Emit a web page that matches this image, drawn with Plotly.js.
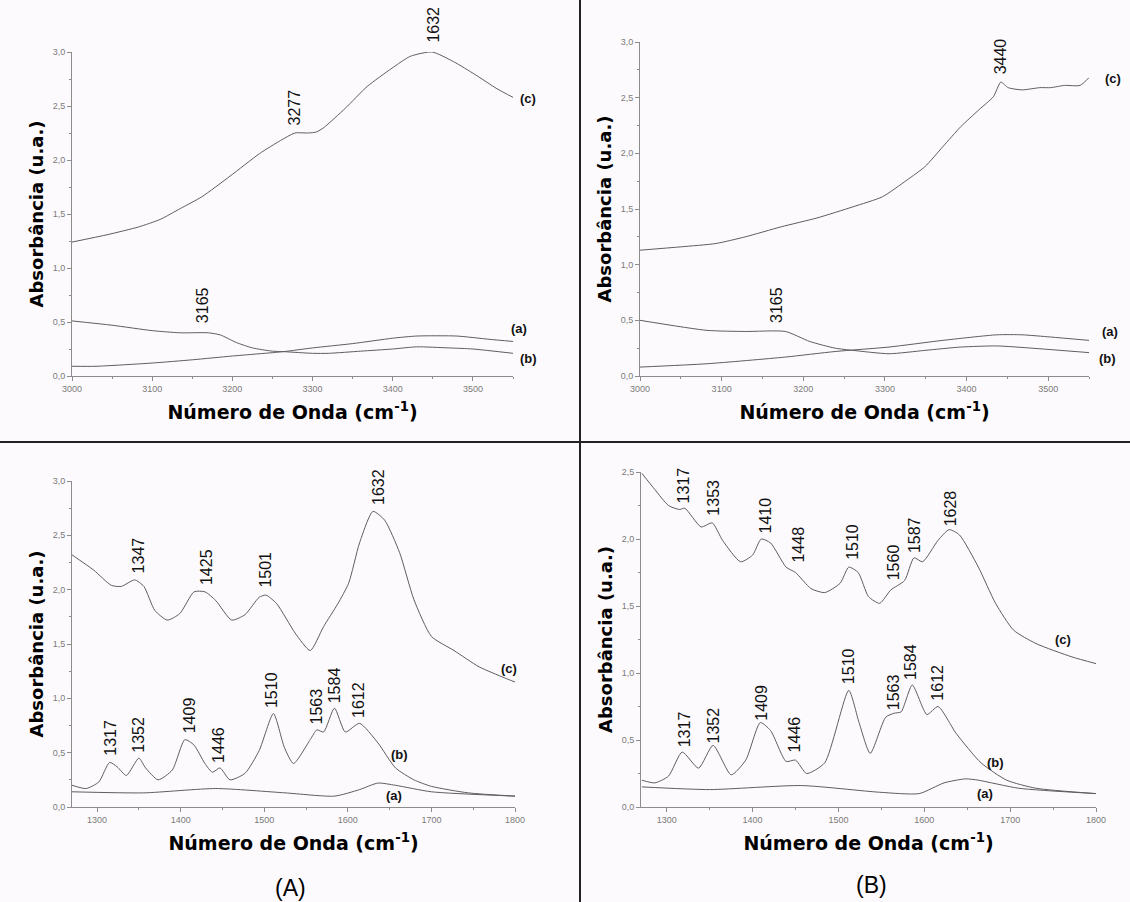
<!DOCTYPE html>
<html>
<head>
<meta charset="utf-8">
<script src="https://cdn.plot.ly/plotly-3.0.1.min.js"></script>
<style>html,body{margin:0;padding:0;background:#fdfafd;}#chart{width:1130px;height:902px;}</style>
</head>
<body>
<div id="chart"></div>
<script>
// ---------- DATA ----------
// Top-left panel (A), 3000-3550 cm-1
const tlC_x = [3000,3045,3083,3110,3135,3162,3197,3234,3260,3278,3295,3305,3314,3341,3368,3399,3422,3449,3476,3503,3530,3550];
const tlC_y = [1.24,1.31,1.38,1.45,1.55,1.66,1.85,2.06,2.18,2.25,2.25,2.26,2.30,2.48,2.68,2.85,2.96,3.00,2.91,2.79,2.66,2.58];
const tlA_x = [3000,3030,3100,3150,3200,3263,3300,3350,3400,3430,3480,3520,3550];
const tlA_y = [0.09,0.09,0.12,0.15,0.185,0.225,0.26,0.30,0.35,0.37,0.37,0.34,0.32];
const tlB_x = [3000,3050,3100,3135,3170,3185,3205,3225,3250,3265,3300,3320,3360,3400,3430,3470,3500,3550];
const tlB_y = [0.51,0.47,0.42,0.40,0.40,0.38,0.31,0.26,0.23,0.225,0.21,0.21,0.23,0.25,0.27,0.26,0.25,0.21];
const tlPeakText = ['3277','1632','3165'];
const tlPeakX = [3278,3451,3162];
const tlPeakY = [2.30,3.00,0.47];
const tlPeakShift = [0,7,0];

// Top-right panel (B), 3000-3550 cm-1
const trC_x = [3000,3050,3093,3129,3173,3217,3261,3297,3327,3349,3371,3393,3415,3433,3442,3451,3468,3490,3503,3520,3539,3550];
const trC_y = [1.13,1.16,1.19,1.25,1.34,1.42,1.52,1.61,1.76,1.88,2.06,2.24,2.39,2.51,2.64,2.59,2.57,2.59,2.59,2.61,2.61,2.68];
const trA_x = [3000,3082,3178,3239,3305,3371,3437,3468,3503,3550];
const trA_y = [0.08,0.11,0.17,0.22,0.26,0.32,0.37,0.37,0.35,0.32];
const trB_x = [3000,3082,3129,3178,3208,3239,3261,3305,3349,3393,3437,3480,3550];
const trB_y = [0.50,0.41,0.40,0.40,0.31,0.25,0.23,0.20,0.23,0.26,0.27,0.25,0.21];
const trPeakText = ['3165','3440'];
const trPeakX = [3168,3442];
const trPeakY = [0.46,2.69];
const trPeakShift = [0,0];

// Bottom-left panel (A), 1270-1800 cm-1
const blC_x = [1270,1296,1317,1329,1345,1356,1369,1384,1399,1416,1429,1442,1461,1477,1494,1502,1515,1537,1555,1571,1588,1601,1614,1630,1644,1662,1679,1700,1727,1757,1787,1800];
const blC_y = [2.32,2.18,2.04,2.03,2.09,2.03,1.81,1.72,1.78,1.98,1.98,1.90,1.72,1.77,1.93,1.95,1.87,1.60,1.44,1.66,1.87,2.06,2.43,2.72,2.64,2.34,1.91,1.57,1.44,1.29,1.19,1.15];
const blB_x = [1270,1287,1302,1315,1324,1335,1350,1358,1373,1390,1405,1416,1429,1438,1447,1459,1477,1494,1511,1524,1535,1555,1563,1571,1584,1597,1614,1636,1657,1679,1700,1744,1800];
const blB_y = [0.20,0.17,0.23,0.41,0.37,0.29,0.45,0.36,0.25,0.34,0.62,0.57,0.40,0.32,0.36,0.25,0.31,0.52,0.86,0.55,0.40,0.62,0.71,0.69,0.91,0.69,0.77,0.59,0.36,0.25,0.19,0.13,0.10];
const blA_x = [1270,1356,1442,1525,1584,1614,1636,1657,1700,1800];
const blA_y = [0.14,0.13,0.17,0.13,0.10,0.16,0.22,0.20,0.14,0.10];
const blPeakText = ['1347','1425','1501','1632','1317','1352','1409','1446','1510','1563','1584','1612'];
const blPeakX = [1350,1431,1502,1636,1315,1350,1410,1445,1509,1563,1584,1612];
const blPeakY = [2.13,2.02,2.00,2.76,0.45,0.48,0.66,0.39,0.89,0.74,0.94,0.80];

// Bottom-right panel (B), 1270-1800 cm-1
const brC_x = [1271,1286,1302,1315,1321,1340,1353,1365,1386,1400,1410,1421,1439,1450,1468,1484,1502,1512,1523,1535,1548,1561,1577,1588,1598,1616,1629,1641,1663,1683,1704,1730,1772,1800];
const brC_y = [2.49,2.37,2.25,2.22,2.23,2.09,2.12,1.99,1.83,1.88,2.00,1.97,1.79,1.75,1.63,1.60,1.67,1.79,1.75,1.57,1.52,1.62,1.69,1.86,1.83,1.99,2.07,2.03,1.79,1.52,1.32,1.22,1.12,1.07];
const brB_x = [1271,1286,1302,1318,1337,1354,1375,1392,1409,1421,1439,1450,1463,1484,1512,1524,1537,1555,1565,1573,1586,1603,1616,1637,1666,1696,1730,1800];
const brB_y = [0.20,0.18,0.23,0.41,0.29,0.46,0.24,0.35,0.63,0.57,0.34,0.35,0.25,0.33,0.87,0.63,0.40,0.67,0.70,0.71,0.91,0.69,0.75,0.55,0.33,0.20,0.14,0.10];
const brA_x = [1271,1350,1457,1548,1594,1623,1648,1663,1710,1800];
const brA_y = [0.15,0.13,0.16,0.11,0.10,0.18,0.21,0.20,0.14,0.10];
const brPeakText = ['1317','1353','1410','1448','1510','1560','1587','1628','1317','1352','1409','1446','1510','1563','1584','1612'];
const brPeakX = [1320,1354,1415,1453,1517,1564,1588,1630,1320,1354,1410,1449,1512,1564,1584,1615];
const brPeakY = [2.25,2.16,2.03,1.81,1.83,1.68,1.88,2.08,0.43,0.46,0.63,0.39,0.90,0.71,0.93,0.78];

// Curve tags
const topTagText = ['(c)','(a)','(b)'];
const tlTagX = [3550,3550,3550], tlTagY = [2.57,0.44,0.16], tlTagShift = [5,-4,5];
const trTagX = [3550,3550,3550], trTagY = [2.67,0.40,0.16], trTagShift = [14,11,8];
const botTagText = ['(c)','(b)','(a)'];
const blTagX = [1793,1662,1655], blTagY = [1.27,0.48,0.11];
const brTagX = [1761,1683,1671], brTagY = [1.25,0.33,0.10];

const xTitle = 'Número de Onda (cm<sup>-1</sup>)';
const yTitle = 'Absorbância (u.a.)';

// ---------- BUILD ----------
const lineStyle = {color:'#5e5e5e', width:1, shape:'spline', smoothing:0.6};
function tr(x, y, xa, ya){ return {x:x, y:y, xaxis:xa, yaxis:ya, type:'scatter', mode:'lines', line:lineStyle, hoverinfo:'skip', showlegend:false}; }

const data = [
  tr(tlC_x, tlC_y, 'x', 'y'), tr(tlA_x, tlA_y, 'x', 'y'), tr(tlB_x, tlB_y, 'x', 'y'),
  tr(trC_x, trC_y, 'x2', 'y2'), tr(trA_x, trA_y, 'x2', 'y2'), tr(trB_x, trB_y, 'x2', 'y2'),
  tr(blC_x, blC_y, 'x3', 'y3'), tr(blB_x, blB_y, 'x3', 'y3'), tr(blA_x, blA_y, 'x3', 'y3'),
  tr(brC_x, brC_y, 'x4', 'y4'), tr(brB_x, brB_y, 'x4', 'y4'), tr(brA_x, brA_y, 'x4', 'y4')
];

const W = 1130, H = 902;
const titleFont = {family:'DejaVu Sans', size:19, color:'#000', weight:'bold'};
function xax(range, x0, x1, anchor){
  return {domain:[x0/W, x1/W], range:range, anchor:anchor, showline:true, linecolor:'#8c8c8c', linewidth:1,
    ticks:'outside', ticklen:4, tickcolor:'#8c8c8c', dtick:100, tick0:0,
    minor:{ticks:'outside', ticklen:2, tickcolor:'#8c8c8c', dtick:50, tick0:0},
    tickfont:{family:'Liberation Sans', size:9, color:'#7a7a7a'}, showgrid:false, zeroline:false,
    title:{text:xTitle, font:titleFont, standoff:12}};
}
function yax(range, yb, yt, anchor){
  return {domain:[1-yb/H, 1-yt/H], range:range, anchor:anchor, showline:true, linecolor:'#8c8c8c', linewidth:1,
    ticks:'outside', ticklen:4, tickcolor:'#8c8c8c', dtick:0.5, tick0:0, tickformat:'.1f',
    minor:{ticks:'outside', ticklen:2, tickcolor:'#8c8c8c', dtick:0.25, tick0:0},
    tickfont:{family:'Liberation Sans', size:9, color:'#7a7a7a'}, showgrid:false, zeroline:false,
    title:{text:yTitle, font:{family:'DejaVu Sans', size:18, color:'#000', weight:'bold'}, standoff:4}};
}

const annotations = [];
function peaks(texts, xs, ys, shifts, xr, yr){
  for (let i=0;i<texts.length;i++){
    annotations.push({text:texts[i], x:xs[i], y:ys[i], yshift: shifts ? shifts[i] : 0, xref:xr, yref:yr, showarrow:false, textangle:-90,
      xanchor:'center', yanchor:'bottom', font:{family:'Liberation Sans', size:16, color:'#111'}});
  }
}
function tags(texts, xs, ys, shifts, xr, yr){
  for (let i=0;i<texts.length;i++){
    annotations.push({text:texts[i], x:xs[i], y:ys[i], xshift: shifts ? shifts[i] : 0, xref:xr, yref:yr, showarrow:false,
      xanchor: shifts ? 'left' : 'center', yanchor:'middle', font:{family:'Liberation Sans', size:13, color:'#111', weight:'bold'}});
  }
}
peaks(tlPeakText, tlPeakX, tlPeakY, tlPeakShift, 'x', 'y');
peaks(trPeakText, trPeakX, trPeakY, trPeakShift, 'x2', 'y2');
peaks(blPeakText, blPeakX, blPeakY, null, 'x3', 'y3');
peaks(brPeakText, brPeakX, brPeakY, null, 'x4', 'y4');
tags(topTagText, tlTagX, tlTagY, tlTagShift, 'x', 'y');
tags(topTagText, trTagX, trTagY, trTagShift, 'x2', 'y2');
tags(botTagText, blTagX, blTagY, null, 'x3', 'y3');
tags(botTagText, brTagX, brTagY, null, 'x4', 'y4');
annotations.push({text:'(A)', x:290/W, y:1-888/H, xref:'paper', yref:'paper', showarrow:false, xanchor:'center', yanchor:'middle', font:{family:'Liberation Sans', size:23, color:'#000'}});
annotations.push({text:'(B)', x:871/W, y:1-885/H, xref:'paper', yref:'paper', showarrow:false, xanchor:'center', yanchor:'middle', font:{family:'Liberation Sans', size:23, color:'#000'}});

const layout = {
  width:W, height:H, margin:{l:0,r:0,t:0,b:0}, paper_bgcolor:'#fdfafd', plot_bgcolor:'rgba(0,0,0,0)',
  separators:',.', showlegend:false,
  xaxis: xax([3000,3550], 72, 513, 'y'),
  yaxis: yax([0,3.0], 376, 52, 'x'),
  xaxis2: xax([3000,3550], 640, 1089, 'y2'),
  yaxis2: yax([0,3.0], 376, 42, 'x2'),
  xaxis3: xax([1270,1800], 72, 515, 'y3'),
  yaxis3: yax([0,3.0], 807, 481, 'x3'),
  xaxis4: xax([1270,1800], 641, 1096, 'y4'),
  yaxis4: yax([0,2.5], 807, 472, 'x4'),
  annotations: annotations,
  shapes: [
    {type:'line', xref:'paper', yref:'paper', x0:580/W, x1:580/W, y0:0, y1:1, line:{color:'#222', width:2}},
    {type:'line', xref:'paper', yref:'paper', x0:0, x1:1, y0:1-442/H, y1:1-442/H, line:{color:'#222', width:2}}
  ]
};

Plotly.newPlot('chart', data, layout, {staticPlot:true, displayModeBar:false});
</script>
</body>
</html>
